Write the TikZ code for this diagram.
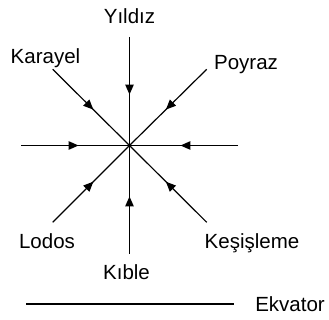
\documentclass[tikz,border=0pt]{standalone}
\usepackage{fontspec}
\setmainfont{Liberation Sans}
\usetikzlibrary{arrows.meta,decorations.markings}
\begin{document}
\begin{tikzpicture}[x=1pt,y=-1pt,
  line width=1.2pt,
  wind/.style={draw,postaction={decorate},
    decoration={markings,mark=at position 0.53 with {\arrow{Triangle[length=10pt,width=8.5pt]}}}},
  lbl/.style={anchor=base,inner sep=0pt,font=\fontsize{20.5}{24}\selectfont}]
\useasboundingbox (0,0) rectangle (329,320);
% centre and outer ends of the wind directions
\coordinate (c) at (129.5,145.5);
\coordinate (n) at (129.5,37);
\coordinate (s) at (129.5,254);
\coordinate (w) at (21,145.5);
\coordinate (e) at (238,145.5);
\coordinate (nw) at (52.7,69.3);
\coordinate (ne) at (206.7,69.3);
\coordinate (sw) at (52.7,222.3);
\coordinate (se) at (206.7,222.3);
% winds blowing towards the centre
\draw[wind] (n) -- (c);
\draw[wind] (s) -- (c);
\draw[wind] (w) -- (c);
\draw[wind] (e) -- (c);
\draw[wind] (nw) -- (c);
\draw[wind] (ne) -- (c);
\draw[wind] (sw) -- (c);
\draw[wind] (se) -- (c);
% labels
\node[lbl] (yildiz) at (129.5,24) {Yıldız};
\node[lbl] (karayel) at (45.5,63.3) {Karayel};
\node[lbl] (poyraz) at (246,69.3) {Poyraz};
\node[lbl] (lodos) at (47,248.3) {Lodos};
\node[lbl] (kesisleme) at (252,248.3) {Keşişleme};
\node[lbl] (kible) at (126.5,279.3) {Kıble};
% equator
\coordinate (eqa) at (26,304);
\coordinate (eqb) at (234,304);
\draw (eqa) -- (eqb);
\node[lbl] (ekvator) at (290,311.7) {Ekvator};
\end{tikzpicture}
\end{document}
